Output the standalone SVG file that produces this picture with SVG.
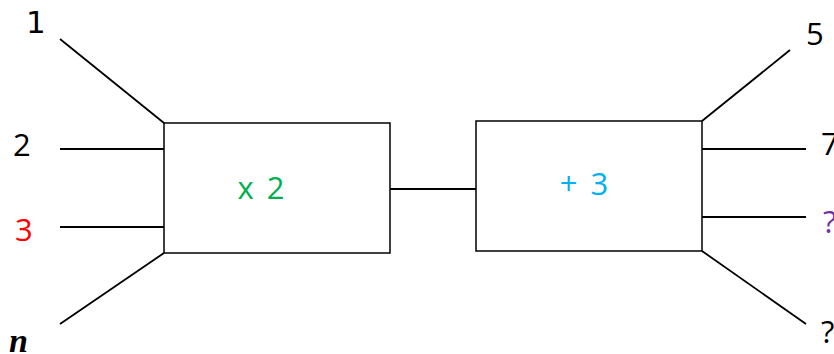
<svg xmlns="http://www.w3.org/2000/svg" width="834" height="354" viewBox="0 0 834 354">
  <style>
    .box { fill: #ffffff; stroke: #000000; stroke-width: 1.5; }
    .wire { stroke: #000000; stroke-width: 1.8; fill: none; }
    .lbl { font-family: "Open Sans", "Noto Sans", sans-serif; font-size: 31px; }
    .op { word-spacing: 5px; }
  </style>
  <rect width="834" height="354" fill="#ffffff"/>

  <!-- wires -->
  <g id="connectors">
    <line class="wire" x1="60" y1="39" x2="164" y2="123"/>
    <line class="wire" x1="60" y1="149" x2="164" y2="149"/>
    <line class="wire" x1="60" y1="227" x2="164" y2="227"/>
    <line class="wire" x1="60" y1="324" x2="164" y2="253"/>
    <line class="wire" x1="390" y1="189" x2="476" y2="189"/>
    <line class="wire" x1="702" y1="121" x2="790" y2="50"/>
    <line class="wire" x1="702" y1="149" x2="806" y2="149"/>
    <line class="wire" x1="702" y1="217" x2="806" y2="217"/>
    <line class="wire" x1="702" y1="251" x2="806" y2="324"/>
  </g>

  <g id="times-two">
    <rect class="box" x="164" y="123" width="226" height="130"/>
    <text class="lbl op" x="261" y="199" text-anchor="middle" fill="#00B050">x 2</text>
  </g>

  <g id="plus-three">
    <rect class="box" x="476" y="121" width="226" height="130"/>
    <text class="lbl op" x="584" y="195" text-anchor="middle" fill="#00B0F0">+ 3</text>
  </g>

  <!-- inputs -->
  <g id="inputs">
    <text x="26" y="33" style="font-family:'DejaVu Sans',sans-serif;font-size:31px" fill="#000000">1</text>
    <text class="lbl" x="13" y="156" fill="#000000">2</text>
    <text class="lbl" x="15" y="241" fill="#FF0000">3</text>
    <text x="9" y="352" style="font-family:'Liberation Serif',serif;font-size:34px;font-weight:bold;font-style:italic" fill="#000000">n</text>
  </g>

  <!-- outputs -->
  <g id="outputs">
    <text class="lbl" x="806" y="45" fill="#000000">5</text>
    <text class="lbl" x="821" y="155" fill="#000000">7</text>
    <text class="lbl" x="823" y="233" fill="#7030A0">?</text>
    <text class="lbl" x="821" y="343" fill="#000000">?</text>
  </g>
</svg>
